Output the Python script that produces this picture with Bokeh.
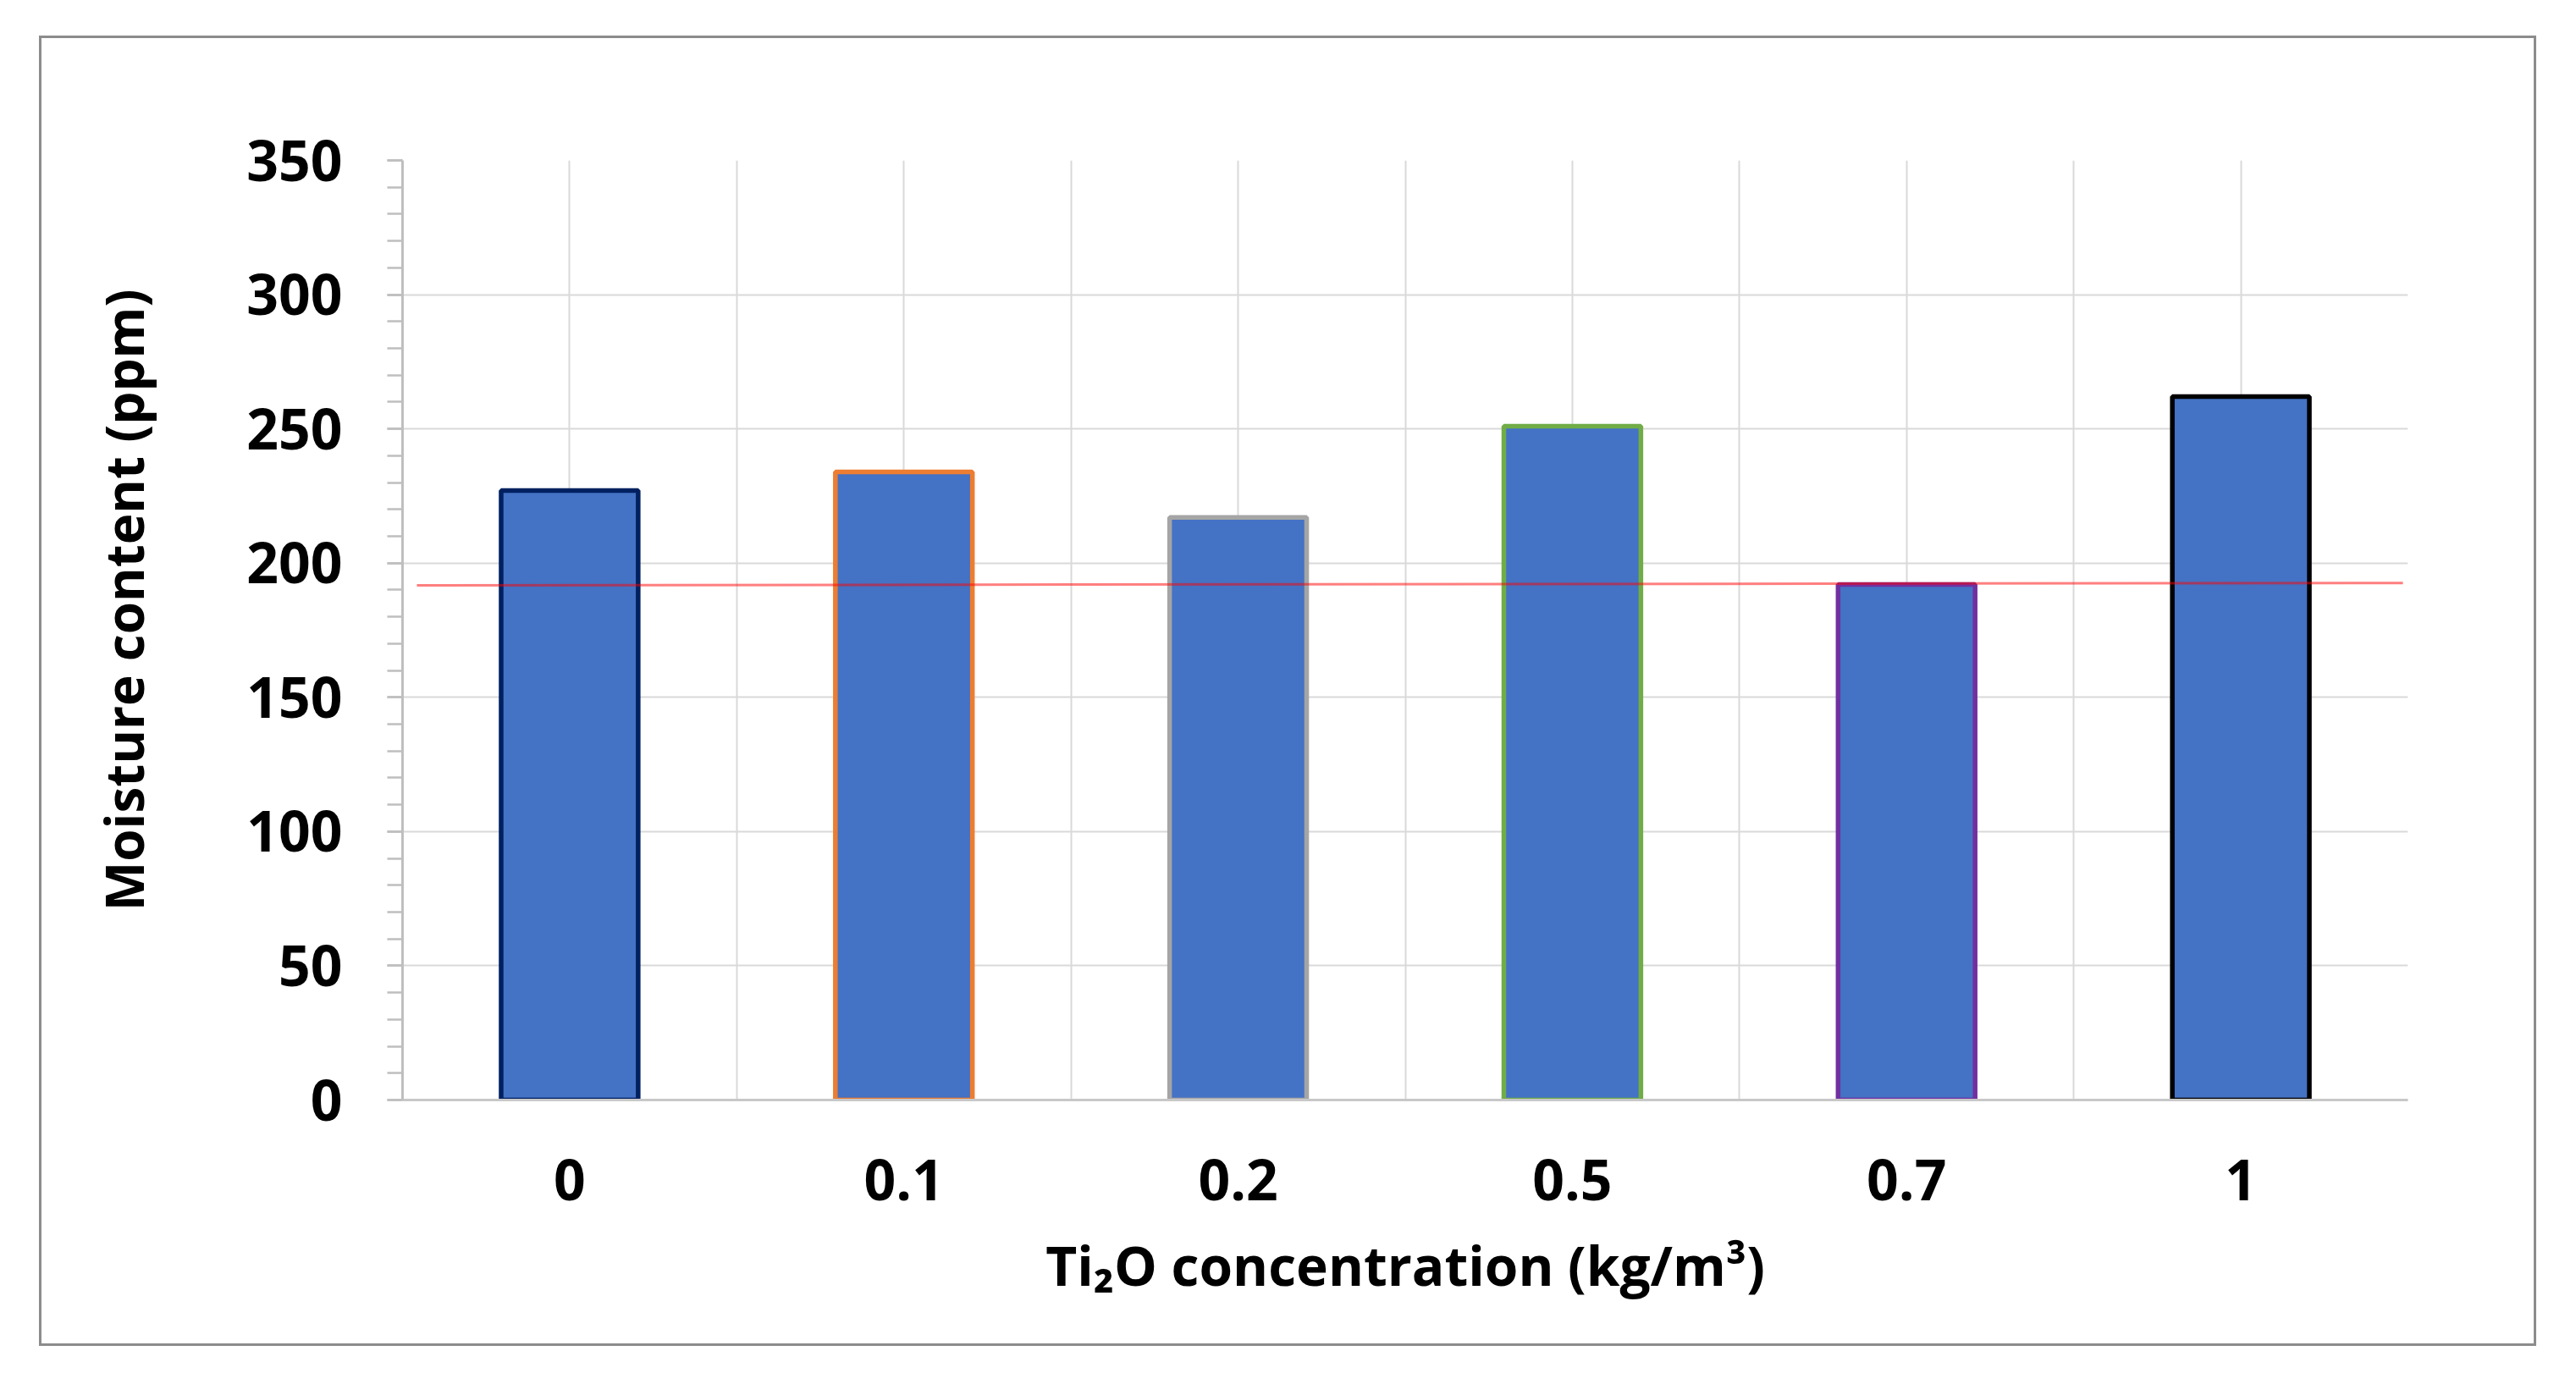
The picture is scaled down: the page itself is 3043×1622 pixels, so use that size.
import numpy as np
from bokeh.plotting import figure
from bokeh.models import FactorRange, Range1d, FixedTicker, Grid, Title
from bokeh.embed import file_html
from bokeh.resources import INLINE

# ---- data ----
categories = ["0", "0.1", "0.2", "0.5", "0.7", "1"]          # Ti2O concentration (kg/m3)
moisture = [227, 234, 217, 251, 192, 262]                      # moisture content (ppm)
edge_colors = ["#002060", "#ED7D31", "#A5A5A5", "#70AD47", "#7030A0", "#000000"]
y_major = [0, 50, 100, 150, 200, 250, 300, 350]
y_minor = list(range(0, 351, 10))
ref_line_x = [0.043, 5.985]      # red reference line (categorical synthetic coords)
ref_line_y = [191.7, 192.6]

FONT = "Open Sans"

p = figure(
    x_range=FactorRange(factors=categories),
    y_range=Range1d(0, 350),
    width=2950, height=1548,
    min_border_left=426, min_border_right=155,
    min_border_top=144, min_border_bottom=294,
    output_backend="svg", toolbar_location=None,
    background_fill_color="white", border_fill_color="white",
)
p.margin = (42, 0, 0, 46)
p.styles = {"border": "3px solid #8c8c8c"}
p.outline_line_color = None

# grids
p.xgrid.grid_line_color = None
p.ygrid.ticker = FixedTicker(ticks=y_major)
p.ygrid.grid_line_color = "#D9D9D9"
p.ygrid.grid_line_width = 2
half_steps = list(np.arange(0, len(categories) + 0.25, 0.5))
vgrid = Grid(dimension=0, ticker=FixedTicker(ticks=half_steps),
             grid_line_color="#D9D9D9", grid_line_width=2)
p.add_layout(vgrid)

# bars
p.vbar(x=categories, top=moisture, width=0.41, bottom=0,
       fill_color="#4472C4", line_color=edge_colors, line_width=5.5)

# red reference line
p.line(x=ref_line_x, y=ref_line_y, line_color="#FF0000", line_alpha=0.5, line_width=3)

# y axis
ya = p.yaxis[0]
ya.ticker = FixedTicker(ticks=y_major, minor_ticks=y_minor)
ya.axis_line_color = "#BFBFBF"
ya.axis_line_width = 3
ya.major_tick_line_color = "#BFBFBF"
ya.minor_tick_line_color = "#BFBFBF"
ya.major_tick_line_width = 2.5
ya.minor_tick_line_width = 2.5
ya.major_tick_in = 0
ya.major_tick_out = 18
ya.minor_tick_in = 0
ya.minor_tick_out = 18
ya.major_label_text_font = FONT
ya.major_label_text_font_style = "bold"
ya.major_label_text_font_size = "66px"
ya.major_label_text_color = "black"
ya.major_label_standoff = 53
# blank spacer label between tick labels and the title
ya.axis_label = " "
ya.axis_label_text_font_size = "10px"
ya.axis_label_standoff = 34

# x axis
xa = p.xaxis[0]
xa.axis_line_color = "#C8C8C8"
xa.axis_line_width = 3
xa.major_tick_line_color = None
xa.minor_tick_line_color = None
xa.major_tick_out = 0
xa.major_tick_in = 0
xa.major_label_text_font = FONT
xa.major_label_text_font_style = "bold"
xa.major_label_text_font_size = "66px"
xa.major_label_text_color = "black"
xa.major_label_standoff = 70
xa.axis_label = "Ti\u2082O concentration (kg/m\u00b3)"
xa.axis_label_text_font = FONT
xa.axis_label_text_font_style = "bold"
xa.axis_label_text_font_size = "64px"
xa.axis_label_text_color = "black"
xa.axis_label_standoff = 30

# y title as a left-side Title so it can be offset like the reference
yt = Title(text="Moisture content (ppm)", align="right", offset=152,
           text_font=FONT, text_font_style="bold", text_font_size="62px",
           text_color="black", standoff=105)
p.add_layout(yt, "left")

open("out.html", "w").write(file_html(p, INLINE))
